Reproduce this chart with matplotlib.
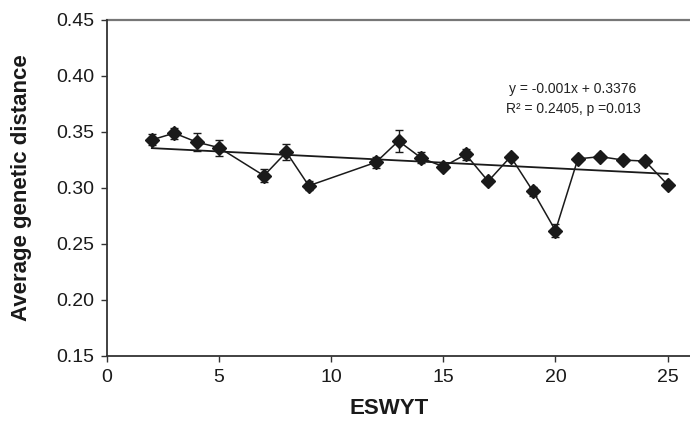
import matplotlib
matplotlib.use("Agg")
import matplotlib.pyplot as plt

plt.rcParams['font.family'] = ['Liberation Sans', 'DejaVu Sans']

# ESWYT number vs. average genetic distance (mean and error)
eswyt = [2, 3, 4, 5, 7, 8, 9, 12, 13, 14, 15, 16, 17, 18, 19, 20, 21, 22, 23, 24, 25]
distance = [0.343, 0.349, 0.341, 0.336, 0.311, 0.332, 0.302, 0.323, 0.342, 0.327, 0.319,
            0.330, 0.306, 0.328, 0.297, 0.262, 0.326, 0.328, 0.325, 0.324, 0.303]
error = [0.005, 0.005, 0.008, 0.007, 0.006, 0.007, 0.004, 0.005, 0.010, 0.005, 0.002,
         0.005, 0.002, 0.002, 0.004, 0.006, 0.002, 0.002, 0.003, 0.002, 0.002]

# linear regression reported on the chart
slope = -0.001
intercept = 0.3376
r_squared = 0.2405
p_value = 0.013

x_ticks = [0, 5, 10, 15, 20, 25]
y_ticks = [0.15, 0.20, 0.25, 0.30, 0.35, 0.40, 0.45]

W, H = 690, 430
fig = plt.figure(figsize=(W / 100, H / 100), dpi=100)
ax = fig.add_axes([107 / W, 1 - 356 / H, 1 - 107 / W, (356 - 20) / H])

ink = '#1a1a1a'
ax.errorbar(eswyt, distance, yerr=error, fmt='-D', color=ink, ecolor=ink,
            markersize=7, linewidth=1.1, elinewidth=1.0, capsize=3, capthick=1.0,
            zorder=3)

fit_x = [eswyt[0], eswyt[-1]]
fit_y = [slope * v + intercept for v in fit_x]
ax.plot(fit_x, fit_y, color=ink, linewidth=1.3, zorder=2)

fig.text(573 / W, 1 - 89 / H, f"y = {slope}x + {intercept}", fontsize=10,
         ha='center', va='center', color='#222222')
fig.text(573 / W, 1 - 109 / H, f"R² = {r_squared}, p ={p_value}", fontsize=10,
         ha='center', va='center', color='#222222')

ax.set_xlim(0, 26)
ax.set_ylim(0.15, 0.45)
ax.set_xticks(x_ticks)
ax.set_yticks(y_ticks)
ax.set_yticklabels([f"{v:.2f}" for v in y_ticks])
ax.tick_params(axis='both', direction='out', length=4, width=1.0, color='#333333',
               labelsize=14, labelcolor='#1a1a1a', pad=5)

for side in ('right', 'top'):
    ax.spines[side].set_visible(False)
for side in ('left', 'bottom'):
    ax.spines[side].set_color('#333333')
    ax.spines[side].set_linewidth(1.3)
ax.axhline(0.45, color='#777777', linewidth=1.6, clip_on=False, zorder=1)

ax.set_ylabel('Average genetic distance', fontsize=16, fontweight='bold', color='#1a1a1a')
ax.set_xlabel('ESWYT', fontsize=16, fontweight='bold', color='#1a1a1a')
ax.yaxis.set_label_coords(-0.128, 0.5)
ax.xaxis.set_label_coords(0.484, -0.125)

fig.savefig('out.png', dpi=100)
